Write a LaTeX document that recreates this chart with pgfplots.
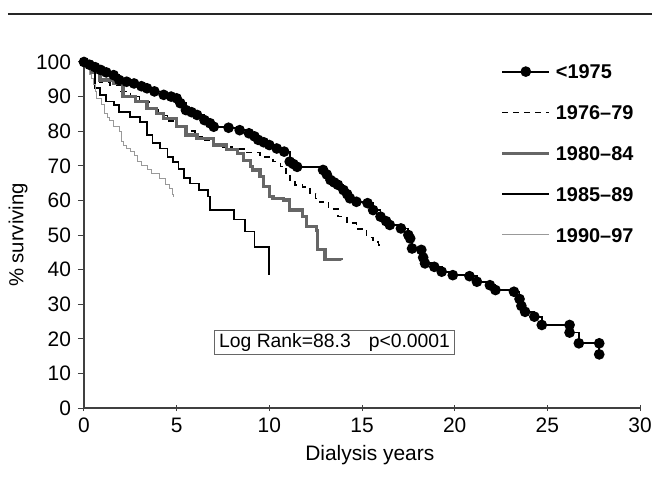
\documentclass[border=0pt]{standalone}
\usepackage{pgfplots}
\pgfplotsset{compat=1.18}
\usepackage{fontspec}
\setmainfont{Liberation Sans}

\begin{document}
\begin{tikzpicture}
\begin{axis}[
  scale only axis, width=278bp, height=173bp,
  xmin=0, xmax=30, ymin=0, ymax=100,
  clip=false,
  axis lines*=left,
  axis line style={black!75, line width=0.6bp},
  xtick={0,5,...,30}, ytick={0,10,...,100},
  xtick align=center, ytick align=outside,
  major tick length=3bp,
  tick style={black!75, line width=0.5bp},
  /pgf/number format/assume math mode=true,
  tick label style={font=\fontsize{10.5}{12}\selectfont},
  xlabel={Dialysis years}, ylabel={\% surviving},
  every axis x label/.style={at={(axis description cs:0.514,-0.136)}, anchor=center, font=\fontsize{10.5}{12}\selectfont},
  every axis y label/.style={at={(axis description cs:-0.1187,0.5)}, anchor=center, rotate=90, font=\fontsize{10.2}{12}\selectfont},
  legend image code/.code={\draw[mark repeat=2,mark phase=2] plot coordinates {(0bp,0bp) (11.75bp,0bp) (23.5bp,0bp)};},
  legend style={draw=none, fill=none, at={(rel axis cs:0.738,1.006)}, anchor=north west,
    font=\bfseries\fontsize{10}{12}\selectfont, row sep=13.1bp,
    nodes={text height=7.3bp, text depth=0bp, inner ysep=0bp, inner xsep=2.5bp}},
  legend cell align=left,
]
% <1975
\addplot[const plot mark left, black, line width=0.9bp, mark=*, mark size=2.2bp] coordinates {
(0,100) (0.3,99.2) (0.6,98.5) (0.9,97.7) (1.2,97.0) (1.6,96.2) (1.9,94.8) (2.3,94.3) (2.7,93.8) (3.1,93.0) (3.4,92.4) (3.8,91.5) (4.3,90.5) (4.7,90.0) (5.0,89.5) (5.2,88.1) (5.5,86.1) (5.8,85.5) (6.1,84.7) (6.5,83.2) (6.8,82.3) (7.0,81.3) (7.8,81.0) (8.4,80.3) (8.9,79.4) (9.2,78.5) (9.4,77.5) (9.7,76.8) (10.0,76.0) (10.4,75.0) (10.8,74.1) (11.1,71.2) (11.3,70.5) (11.5,69.7) (12.9,68.8) (13.1,67.5) (13.3,65.9) (13.5,65.2) (13.7,64.5) (14.0,63.0) (14.2,61.8) (14.35,60.6) (14.7,59.6) (15.3,59.2) (15.6,57.2) (16.0,55.3) (16.3,54.0) (16.5,52.9) (17.1,51.9) (17.5,50.0) (17.6,49.0) (17.7,46.1) (18.2,45.7) (18.3,43.5) (18.4,41.8) (18.9,40.8) (19.3,39.4) (19.9,38.4) (20.8,38.1) (21.2,36.5) (21.9,35.5) (22.2,34.1) (23.2,33.6) (23.5,31.5) (23.6,29.5) (23.8,27.8) (24.3,26.4) (24.7,24.0) (26.2,24.0) (26.2,21.8) (26.7,18.7) (27.8,18.7) (27.8,15.5)
};
\addlegendentry{<1975}
% 1976-79
\addplot[const plot mark left, black, line width=0.8bp, dash pattern=on 3bp off 2.5bp] coordinates {
(0,100) (0.5,97) (0.86,94.3) (1.4,93.3) (2.0,91.5) (2.5,90) (3.0,88.5) (3.5,86.5) (4.0,84.5) (4.5,83) (5.0,81.5) (5.5,80) (6.0,78.5) (6.5,77.5) (7.0,76.5) (7.5,75.5) (8.0,74.8) (8.8,73.8) (9.5,72.6) (10.2,71.2) (10.6,69.8) (10.9,67.8) (11.1,65.4) (11.4,64.5) (11.8,63.8) (12.2,62.0) (12.5,60.6) (12.7,59.6) (13.2,57.5) (13.7,55.3) (14.2,53.4) (14.7,51.7) (15.25,49.3) (15.6,48) (15.9,47.1) (16.0,46.5)
};
\addlegendentry{1976--79}
% 1980-84
\addplot[const plot mark left, black!60, line width=1.6bp] coordinates {
(0,100) (0.4,97) (0.86,94.8) (1.6,93.8) (2.1,90) (2.8,88.6) (3.4,86.6) (3.9,85.2) (4.3,83.7) (5.0,81.3) (5.5,78.9) (6.1,77.9) (7.0,76) (7.7,74.6) (8.3,73.6) (8.6,71.5) (9.0,69.8) (9.1,68.8) (9.5,66.9) (9.7,64) (10.0,61.1) (10.2,60.6) (10.75,60.1) (11.1,57.2) (11.8,55.3) (12.0,52.4) (12.55,51.4) (12.6,45.7) (13.0,43.0) (13.9,42.8)
};
\addlegendentry{1980--84}
% 1985-89
\addplot[const plot mark left, black, line width=0.9bp] coordinates {
(0,100) (0.3,98.2) (0.6,92.4) (0.86,90.5) (1.2,88.6) (1.6,87.6) (1.9,85.6) (2.5,84.2) (3.0,82.7) (3.4,78.9) (3.7,76.5) (4.1,75) (4.5,72.5) (4.8,71.2) (5.1,69) (5.4,66.5) (5.7,64.9) (6.2,63) (6.7,61.1) (6.8,57.2) (8.1,54.5) (8.7,51) (9.2,46.5) (10.0,46.5) (10.0,38.5)
};
\addlegendentry{1985--89}
% 1990-97
\addplot[const plot mark left, black!40, line width=0.5bp] coordinates {
(0,100) (0.2,98.2) (0.3,96.5) (0.4,95.3) (0.5,93.4) (0.6,91.5) (0.7,89.5) (0.95,87.6) (1.1,85.2) (1.25,84) (1.4,83.2) (1.6,81.3) (1.9,79.9) (2.0,77) (2.15,76) (2.3,75) (2.5,74) (2.7,73.1) (2.9,71.2) (3.1,70) (3.4,68.8) (3.65,67.8) (4.1,66.4) (4.4,64.5) (4.6,63.5) (4.8,61.6) (4.85,61.0)
};
\addlegendentry{1990--97}

\node[draw=black!60, line width=0.5bp, inner xsep=2.5bp, inner ysep=1.4bp, font=\fontsize{9.7}{11}\selectfont] at (axis cs:13.52,18.9) {Log Rank=88.3\hspace{9bp}p<0.0001};

\draw[black!85, line width=0.8bp] (rel axis cs:-0.1367,1.1387) -- (rel axis cs:1.0216,1.1387);
\coordinate (bl) at (rel axis cs:-0.15108,-0.25723);
\coordinate (tr) at (rel axis cs:1.02158,1.17919);
\end{axis}
\pgfresetboundingbox
\path[use as bounding box] (bl) rectangle (tr);
\end{tikzpicture}
\end{document}
